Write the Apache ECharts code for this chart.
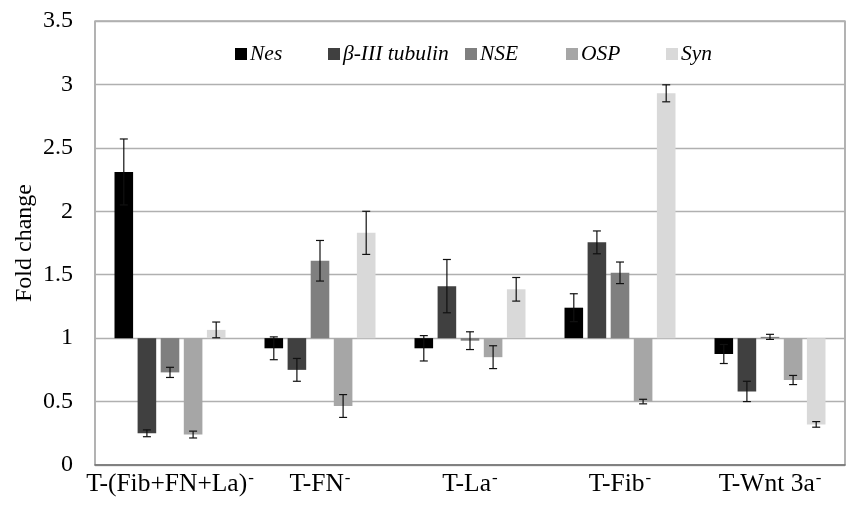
<!DOCTYPE html>
<html>
<head>
<meta charset="utf-8">
<script src="https://cdn.jsdelivr.net/npm/echarts@6/dist/echarts.min.js"></script>
<style>html,body{margin:0;padding:0;background:#fff}#c{width:846px;height:505px}</style>
</head>
<body>
<div id="c"></div>
<script>
const categories = ['T-(Fib+FN+La)⁻', 'T-FN⁻', 'T-La⁻', 'T-Fib⁻', 'T-Wnt 3a⁻'];
const seriesNames = ['Nes', 'β-III tubulin', 'NSE', 'OSP', 'Syn'];
const nes = [2.31, 0.92, 0.92, 1.24, 0.875];
const nesErr = [0.26, 0.09, 0.10, 0.11, 0.075];
const tubulin = [0.25, 0.75, 1.41, 1.755, 0.58];
const tubulinErr = [0.027, 0.09, 0.21, 0.09, 0.08];
const nse = [0.73, 1.61, 0.98, 1.515, 1.01];
const nseErr = [0.04, 0.16, 0.07, 0.085, 0.02];
const osp = [0.24, 0.465, 0.85, 0.50, 0.67];
const ospErr = [0.027, 0.09, 0.09, 0.018, 0.036];
const syn = [1.065, 1.83, 1.385, 2.93, 0.32];
const synErr = [0.062, 0.17, 0.093, 0.067, 0.022];
const baseline = 1;
const yTicks = { min: 0, max: 3.5, interval: 0.5 };

const values = [nes, tubulin, nse, osp, syn];
const errors = [nesErr, tubulinErr, nseErr, ospErr, synErr];
const colors = ['#000000', '#404040', '#7f7f7f', '#a6a6a6', '#d9d9d9'];
const FONT = "'Liberation Serif', 'Times New Roman', serif";

function makeRender(idx) {
  return function (params, api) {
    const c = api.value(0), v = api.value(1), e = api.value(2);
    const band = api.size([1, 0])[0];
    const pitch = band * 0.154, bw = band * 0.124;
    const base = api.coord([c, baseline]);
    const x0 = base[0] + (idx - 2) * pitch;
    const yV = api.coord([c, v])[1];
    const yHi = api.coord([c, v + e])[1];
    const yLo = api.coord([c, v - e])[1];
    const cap = 4;
    const ls = { stroke: '#111', lineWidth: 1.2 };
    return {
      type: 'group',
      children: [
        { type: 'rect', shape: { x: x0 - bw / 2, y: Math.min(base[1], yV), width: bw, height: Math.abs(yV - base[1]) }, style: { fill: colors[idx] } },
        { type: 'line', shape: { x1: x0, y1: yHi, x2: x0, y2: yLo }, style: ls },
        { type: 'line', shape: { x1: x0 - cap, y1: yHi, x2: x0 + cap, y2: yHi }, style: ls },
        { type: 'line', shape: { x1: x0 - cap, y1: yLo, x2: x0 + cap, y2: yLo }, style: ls }
      ]
    };
  };
}

const series = seriesNames.map((name, i) => ({
  name: name,
  type: 'custom',
  renderItem: makeRender(i),
  itemStyle: { color: colors[i] },
  encode: { x: 0, y: 1 },
  data: values[i].map((v, k) => [k, v, errors[i][k]]),
  z: 3
}));

const legendLefts = [230, 323, 460, 561, 661];
const legends = seriesNames.map((name, i) => ({
  data: [name],
  left: legendLefts[i],
  top: 38,
  itemWidth: 12,
  itemHeight: 12,
  icon: 'rect',
  textStyle: { fontFamily: FONT, fontStyle: 'italic', fontSize: 21.5, color: '#000', padding: [0, 0, 0, -2] }
}));

const chart = echarts.init(document.getElementById('c'));
chart.setOption({
  animation: false,
  color: colors,
  legend: legends,
  grid: { left: 95, right: 1, top: 21, bottom: 40, containLabel: false, outerBoundsMode: 'none', show: true, borderColor: '#808080', borderWidth: 1.2, backgroundColor: '#fff' },
  xAxis: {
    type: 'category',
    data: categories,
    axisTick: { show: false },
    axisLine: { show: true, lineStyle: { color: '#707070', width: 1.5 } },
    axisLabel: {
      margin: 5,
      interval: 0,
      formatter: function (s) {
        return s.endsWith('⁻') ? '{m|' + s.slice(0, -1) + '}{s|-}' : '{m|' + s + '}';
      },
      rich: {
        m: { fontFamily: FONT, fontSize: 25.5, color: '#000', lineHeight: 28 },
        s: { fontFamily: FONT, fontSize: 17, color: '#000', lineHeight: 4, verticalAlign: 'top', padding: [0, 0, 0, 1] }
      }
    }
  },
  yAxis: {
    type: 'value',
    min: yTicks.min,
    max: yTicks.max,
    interval: yTicks.interval,
    name: 'Fold change',
    nameLocation: 'middle',
    nameRotate: 90,
    nameGap: 58,
    nameMoveOverlap: false,
    nameTextStyle: { fontFamily: FONT, fontSize: 24, color: '#000' },
    axisLine: { show: false },
    axisTick: { show: false },
    axisLabel: { fontFamily: FONT, fontSize: 24, color: '#000', margin: 22 },
    splitLine: { lineStyle: { color: '#b0b0b0', width: 1.3 } }
  },
  series: series
});
</script>
</body>
</html>
